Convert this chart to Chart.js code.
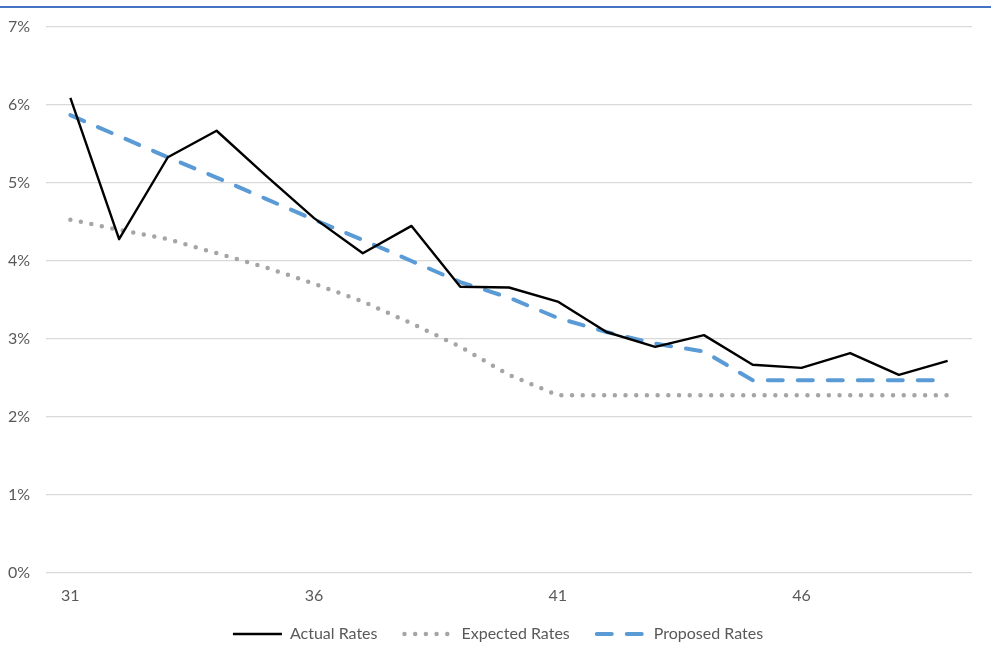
<!DOCTYPE html>
<html>
<head>
<meta charset="utf-8">
<script src="https://cdn.jsdelivr.net/npm/chart.js@4/dist/chart.umd.min.js"></script>
<style>
  html, body { margin: 0; padding: 0; background: #fff; }
  #wrap { position: relative; width: 991px; height: 656px; }
  #topline { position: absolute; left: 0; top: 6px; width: 991px; height: 0; border-top: 2px solid #4472C4; }
</style>
</head>
<body>
<div id="wrap">
  <div id="topline"></div>
  <canvas id="rateChart" width="991" height="656"></canvas>
</div>
<script>
const ages = ['31','32','33','34','35','36','37','38','39','40','41','42','43','44','45','46','47','48','49'];
const actualRates = [6.09, 4.28, 5.33, 5.67, 5.10, 4.55, 4.10, 4.45, 3.67, 3.66, 3.48, 3.09, 2.90, 3.05, 2.67, 2.63, 2.82, 2.54, 2.72];
const expectedRates = [4.53, 4.40, 4.28, 4.10, 3.92, 3.71, 3.48, 3.20, 2.90, 2.54, 2.28, 2.28, 2.28, 2.28, 2.28, 2.28, 2.28, 2.28, 2.28];
const proposedRates = [5.87, 5.60, 5.33, 5.07, 4.80, 4.53, 4.27, 4.00, 3.73, 3.53, 3.27, 3.09, 2.94, 2.84, 2.47, 2.47, 2.47, 2.47, 2.47];
const yTicks = [0, 1, 2, 3, 4, 5, 6, 7];

const textColor = '#595959';
const fontFamily = 'Lato, "Open Sans", sans-serif';

// legend padding is both the item gap and the vertical padding; keep the wide gap but cap the height
const legendHeight = {
    id: 'legendHeight',
    beforeUpdate(chart) {
        const lg = chart.legend;
        if (lg && !lg._capped) {
            const fit = lg.fit.bind(lg);
            lg.fit = function () {
                fit();
                this.height = 51;
            };
            lg._capped = true;
        }
    },
    afterLayout(chart) {
        const lg = chart.legend;
        lg.top -= 6;
        lg.bottom -= 6;
        lg.left += 12;
        lg.right += 12;
    }
};

new Chart(document.getElementById('rateChart'), {
    type: 'line',
    data: {
        labels: ages,
        datasets: [{
            label: 'Actual Rates',
            data: actualRates,
            borderColor: '#000000',
            borderWidth: 2.4,
            pointRadius: 0,
            tension: 0,
            borderJoinStyle: 'round'
        }, {
            label: 'Expected Rates',
            data: expectedRates,
            borderColor: '#A5A5A5',
            borderWidth: 4.5,
            borderDash: [0, 10.7],
            borderCapStyle: 'round',
            pointRadius: 0,
            tension: 0
        }, {
            label: 'Proposed Rates',
            data: proposedRates,
            borderColor: '#5B9BD5',
            borderWidth: 4,
            borderDash: [15, 15],
            borderCapStyle: 'round',
            pointRadius: 0,
            tension: 0
        }]
    },
    options: {
        responsive: false,
        animation: false,
        layout: { padding: { left: 0, right: 19, top: 27, bottom: 0 } },
        plugins: {
            tooltip: { enabled: false },
            legend: {
                position: 'bottom',
                labels: {
                    color: textColor,
                    font: { family: fontFamily, size: 16 },
                    usePointStyle: true,
                    pointStyle: 'line',
                    pointStyleWidth: 49,
                    boxWidth: 49,
                    padding: 27,
                    generateLabels: function (chart) {
                        const items = Chart.defaults.plugins.legend.labels.generateLabels(chart);
                        return items.map((item, i) => {
                            const ds = chart.data.datasets[i];
                            item.lineDash = ds.borderDash || [];
                            item.lineWidth = ds.borderWidth;
                            item.lineCap = ds.borderCapStyle || 'butt';
                            item.strokeStyle = ds.borderColor;
                            return item;
                        });
                    }
                }
            }
        },
        scales: {
            x: {
                offset: true,
                grid: { display: false, drawTicks: false },
                border: { display: false },
                afterFit: function (scale) {
                    scale.height = 32;
                },
                ticks: {
                    color: textColor,
                    font: { family: fontFamily, size: 16 },
                    autoSkip: false,
                    maxRotation: 0,
                    padding: 13,
                    callback: function (value, index) {
                        return index % 5 === 0 ? ages[index] : '';
                    }
                }
            },
            y: {
                min: 0,
                max: 7,
                afterBuildTicks: function (scale) {
                    scale.ticks = yTicks.map(v => ({ value: v }));
                },
                afterFit: function (scale) {
                    scale.width = 46;
                },
                grid: { color: '#D9D9D9', lineWidth: 1.3, drawTicks: false },
                border: { display: false },
                ticks: {
                    color: textColor,
                    font: { family: fontFamily, size: 16 },
                    padding: 16,
                    callback: v => v + '%'
                }
            }
        }
    },
    plugins: [legendHeight]
});
</script>
</body>
</html>
